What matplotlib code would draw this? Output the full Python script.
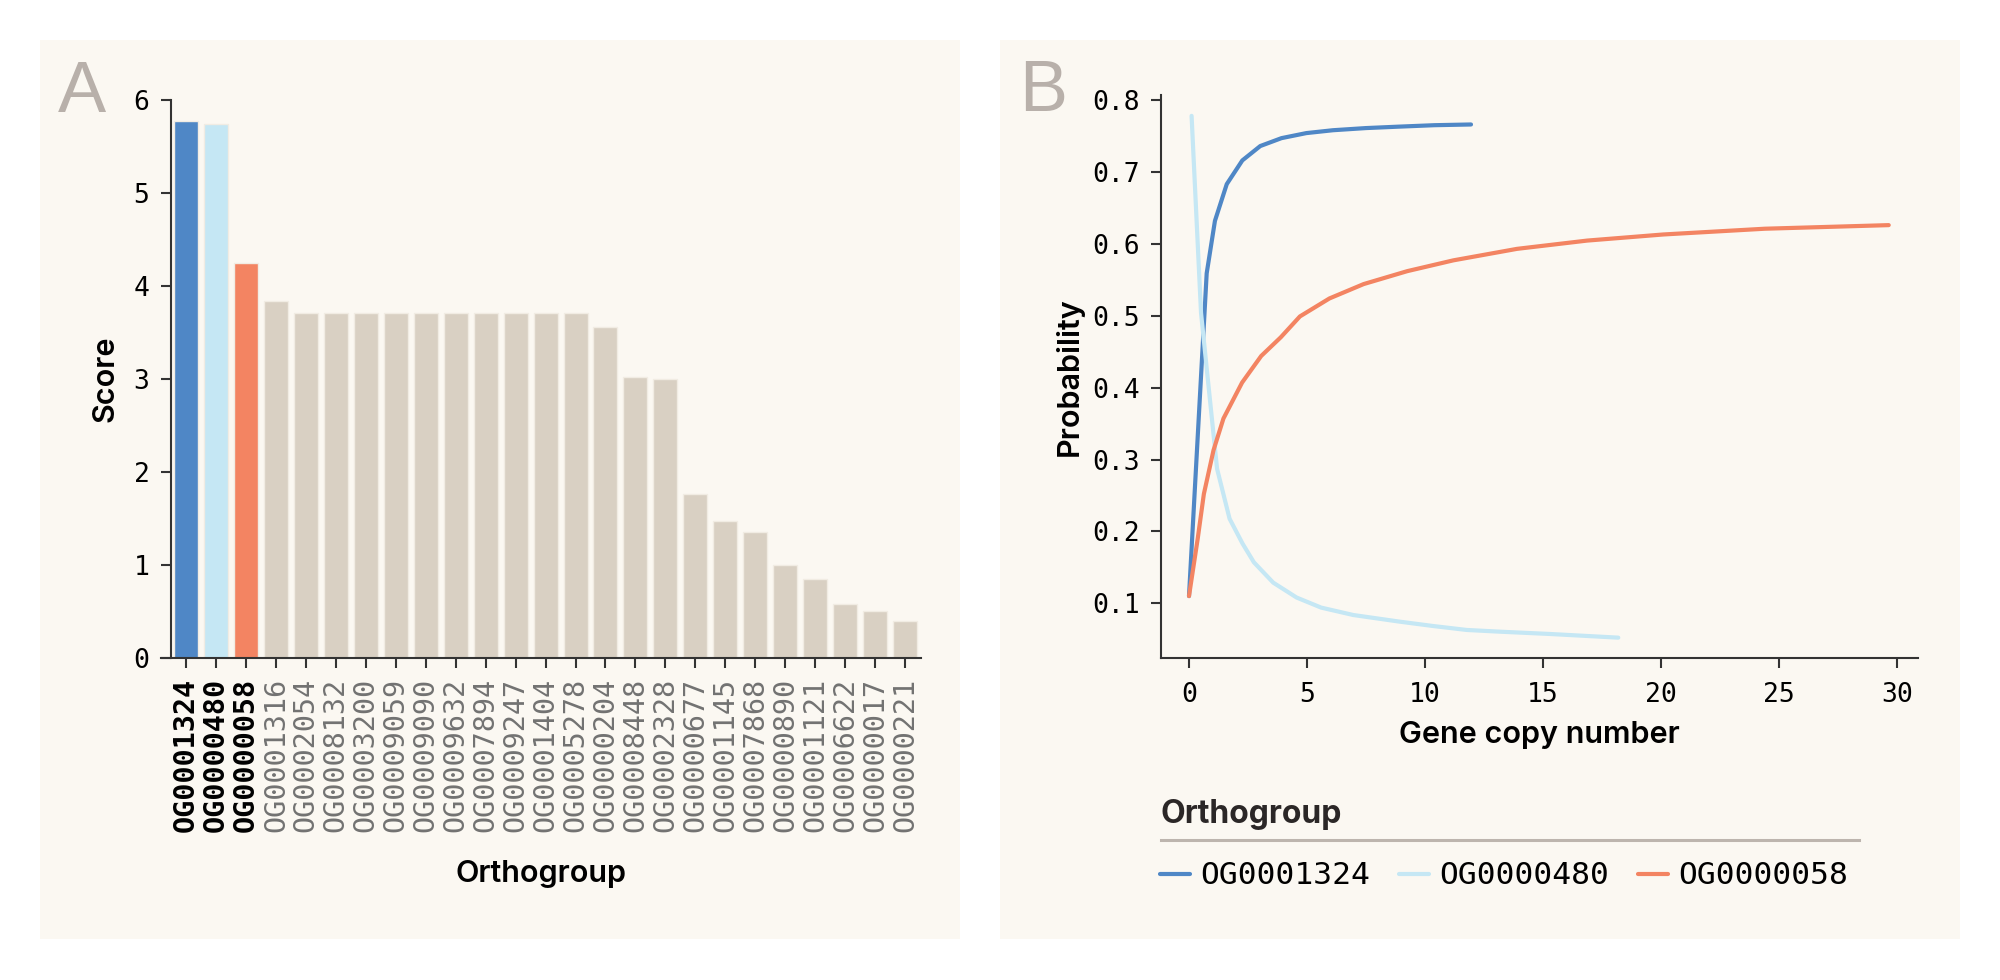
import matplotlib
matplotlib.use("Agg")
import matplotlib.pyplot as plt
from matplotlib.patches import Rectangle
from matplotlib.lines import Line2D
from matplotlib.ticker import FixedLocator

# panel A: scores per orthogroup
orthogroups = [
    "OG0001324", "OG0000480", "OG0000058", "OG0001316", "OG0002054",
    "OG0008132", "OG0003200", "OG0009059", "OG0009090", "OG0009632",
    "OG0007894", "OG0009247", "OG0001404", "OG0005278", "OG0000204",
    "OG0008448", "OG0002328", "OG0000677", "OG0001145", "OG0007868",
    "OG0000890", "OG0001121", "OG0006622", "OG0000017", "OG0000221",
]
scores = [
    5.77, 5.74, 4.25, 3.84, 3.71,
    3.71, 3.71, 3.71, 3.71, 3.71,
    3.71, 3.71, 3.71, 3.71, 3.56,
    3.02, 3.00, 1.76, 1.47, 1.35,
    1.00, 0.85, 0.58, 0.50, 0.40,
]
highlight = ["OG0001324", "OG0000480", "OG0000058"]

# panel B: probability vs gene copy number
og1324_x = [0.0, 0.4, 0.75, 1.1, 1.6, 2.26, 3.02, 3.92, 4.97, 6.1, 7.5, 8.9, 10.4, 11.95]
og1324_y = [0.11, 0.35, 0.559, 0.632, 0.683, 0.716, 0.736, 0.747, 0.754, 0.758, 0.761, 0.763, 0.765, 0.766]

og0480_x = [0.11, 0.51, 0.78, 1.19, 1.72, 2.27, 2.75, 3.57, 4.56, 5.6, 6.96, 8.94, 10.34, 11.77, 13.18, 15.3, 18.19]
og0480_y = [0.778, 0.504, 0.4175, 0.287, 0.2176, 0.183, 0.157, 0.1287, 0.108, 0.094, 0.0837, 0.0744, 0.0684, 0.0629, 0.0605, 0.0573, 0.0522]

og0058_x = [0.0, 0.37, 0.63, 1.04, 1.46, 2.25, 3.06, 3.89, 4.7, 5.95, 7.4, 9.25, 11.2, 13.9, 16.87, 20.1, 24.4, 29.65]
og0058_y = [0.11, 0.19, 0.252, 0.313, 0.357, 0.407, 0.444, 0.47, 0.499, 0.524, 0.544, 0.562, 0.577, 0.593, 0.6045, 0.613, 0.621, 0.626]

blue = "#4f87c6"
light_blue = "#c5e7f4"
orange = "#f38462"
beige = "#d9d0c3"
panel_bg = "#fbf8f2"
letter_grey = "#b8b0aa"
spine_col = "#333333"

W, H = 2000, 980
fig = plt.figure(figsize=(W / 100, H / 100), dpi=100)
fig.patch.set_facecolor("white")


def fx(px):
    return px / W


def fy(py):
    return 1 - py / H


# panel backgrounds
for x0, x1 in [(40, 960), (1000, 1960)]:
    fig.patches.append(Rectangle((fx(x0), fy(939)), fx(x1) - fx(x0), (939 - 40) / H,
                                 transform=fig.transFigure, facecolor=panel_bg,
                                 edgecolor="none", zorder=-5))

mono = "DejaVu Sans Mono"
label_font = dict(family="Inter", weight="semibold", size=22, color="black")
tick_size = 19

# ---------- panel A ----------
ax1 = fig.add_axes([fx(161), fy(658), fx(920.7) - fx(161), (658 - 100) / H])
ax1.set_facecolor("none")
bar_colors = [blue, light_blue, orange] + [beige] * (len(orthogroups) - 3)
ax1.bar(range(len(orthogroups)), scores, width=0.8, color=bar_colors,
        edgecolor="#f1ece3", linewidth=1)
ax1.set_xlim(-0.834, 24.52)
ax1.set_ylim(0, 6)
ax1.spines[["top", "right"]].set_visible(False)
ax1.spines["left"].set_position(("data", -0.5))
for s in ["left", "bottom"]:
    ax1.spines[s].set_color(spine_col)
    ax1.spines[s].set_linewidth(1.5)
ax1.set_xticks(range(len(orthogroups)))
ax1.set_xticklabels(orthogroups, rotation=90, family=mono, size=20.5)
for lab in ax1.get_xticklabels():
    if lab.get_text() in highlight:
        lab.set_fontweight("bold")
        lab.set_color("black")
    else:
        lab.set_color("#727272")
ax1.set_yticks(range(0, 7))
ax1.set_yticklabels([str(v) for v in range(0, 7)], family=mono, size=tick_size)
ax1.tick_params(axis="both", length=7.5, width=1.5, color=spine_col)
ax1.tick_params(axis="x", pad=7)
ax1.tick_params(axis="y", pad=8)
ax1.set_xlabel("Orthogroup", **label_font)
ax1.set_ylabel("Score", **label_font)
ax1.xaxis.set_label_coords(0.5, -0.362)
ax1.yaxis.set_label_coords(-0.054, 0.5)

# ---------- panel B ----------
ax2 = fig.add_axes([fx(1161), fy(658), fx(1918) - fx(1161), (658 - 95) / H])
ax2.set_facecolor("none")
l1, = ax2.plot(og1324_x, og1324_y, color=blue, lw=3, solid_capstyle="round")
l2, = ax2.plot(og0480_x, og0480_y, color=light_blue, lw=3, solid_capstyle="round")
l3, = ax2.plot(og0058_x, og0058_y, color=orange, lw=3, solid_capstyle="round")
ax2.set_xlim(-1.186, 30.89)
ax2.set_ylim(0.0239, 0.807)
ax2.spines[["top", "right"]].set_visible(False)
for s in ["left", "bottom"]:
    ax2.spines[s].set_color(spine_col)
    ax2.spines[s].set_linewidth(1.5)
ax2.set_xticks(range(0, 31, 5))
ax2.set_xticklabels([str(v) for v in range(0, 31, 5)], family=mono, size=tick_size)
yt = [0.1, 0.2, 0.3, 0.4, 0.5, 0.6, 0.7, 0.8]
ax2.yaxis.set_major_locator(FixedLocator(yt))
ax2.set_yticklabels(["%.1f" % v for v in yt], family=mono, size=tick_size)
ax2.tick_params(axis="both", length=7.5, width=1.5, color=spine_col)
ax2.tick_params(axis="x", pad=10)
ax2.tick_params(axis="y", pad=8)
ax2.set_xlabel("Gene copy number", **label_font)
ax2.set_ylabel("Probability", **label_font)
ax2.xaxis.set_label_coords(0.5, -0.112)
ax2.yaxis.set_label_coords(-0.102, 0.5)

# legend below panel B
fig.text(fx(1161), fy(823), "Orthogroup", family="Inter", weight="bold", size=23,
         color="#2b2727", va="baseline", ha="left")
fig.add_artist(Line2D([fx(1161), fx(1859)], [fy(840), fy(840)], transform=fig.transFigure,
                      color="#bdb5ae", lw=2.2))
fig.legend([l1, l2, l3], highlight, loc="center left",
           bbox_to_anchor=(fx(1160), fy(876)), bbox_transform=fig.transFigure,
           ncol=3, frameon=False, borderpad=0, borderaxespad=0,
           handlelength=0.96, handletextpad=0.32, columnspacing=0.93,
           prop=dict(family=mono, size=22.5))

# panel letters
fig.text(fx(58), fy(112), "A", family="Liberation Sans", size=52, color=letter_grey,
         va="baseline", ha="left")
fig.text(fx(1019), fy(111), "B", family="Liberation Sans", size=52, color=letter_grey,
         va="baseline", ha="left")

fig.savefig("out.png", dpi=100, facecolor=fig.get_facecolor())
